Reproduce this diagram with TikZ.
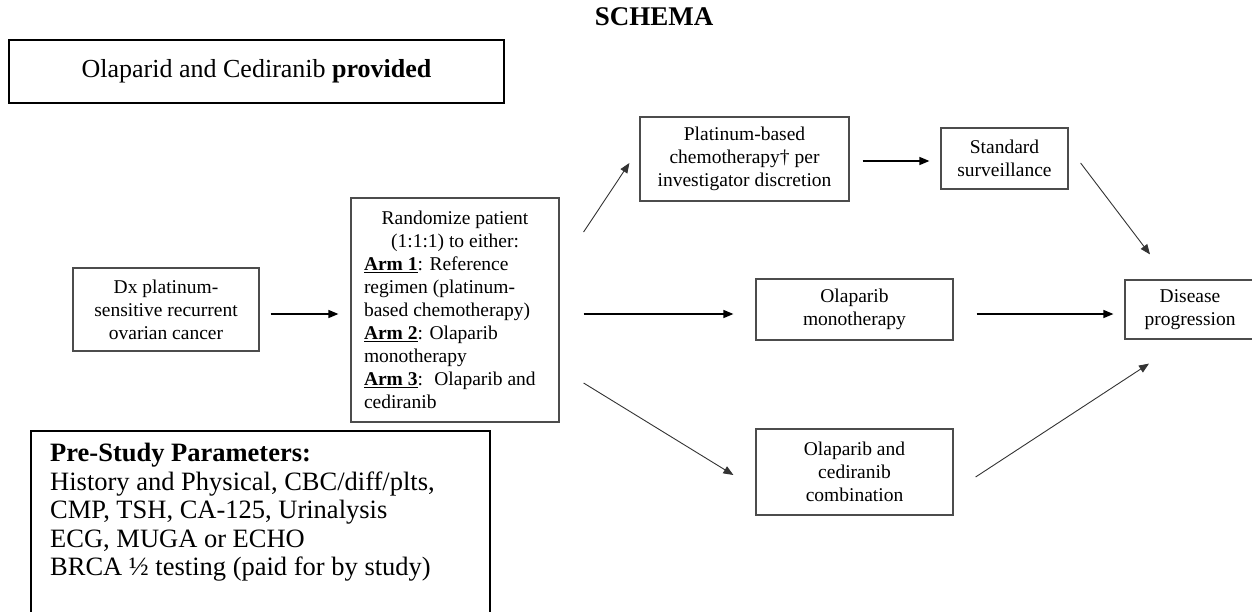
\documentclass[tikz,border=0pt]{standalone}
\usepackage{fontspec}
\setmainfont{Liberation Serif}
\usetikzlibrary{arrows.meta}

\begin{document}
\begin{tikzpicture}[x=1pt,y=-1pt,
		box/.style={draw=black!70,line width=1.2pt,align=center,inner sep=0pt,font=\fontsize{19.5}{23}\selectfont},
		bigbox/.style={draw,line width=2pt,inner sep=0pt},
		arr/.style={-{Triangle[length=10pt,width=8pt]},line width=1.4pt},
		darr/.style={arr,line width=0.9pt,draw=black!80}]
		%\draw [help lines] (0,0) grid (1252,611);
		\def\armw{182pt}
		\useasboundingbox (0,0) rectangle (1252,611);
		\clip (0,0) rectangle (1252,611);
		% title and note
			\node (title) at (654,16.5) {\fontsize{27}{30}\selectfont\bfseries SCHEMA};
			\node (note) [bigbox,minimum width=495pt,minimum height=63pt,font=\fontsize{26}{30}\selectfont] at (256.5,71.5) {Olaparid and Cediranib \textbf{provided}};
		% diagnosis and randomisation
			\node (dx) [box,minimum width=186pt,minimum height=83pt] at (166,309.5) {Dx platinum-\\sensitive recurrent\\ovarian cancer};
			\node (rand) [box,minimum width=208pt,minimum height=224pt] at (455,310) {%
				\makebox[\armw]{Randomize patient}\\
				\makebox[\armw]{(1:1:1) to either:}\\
				\makebox[\armw][l]{\underline{\textbf{Arm 1}}: Reference}\\
				\makebox[\armw][l]{regimen (platinum-}\\
				\makebox[\armw][l]{based chemotherapy)}\\
				\makebox[\armw][l]{\underline{\textbf{Arm 2}}: Olaparib}\\
				\makebox[\armw][l]{monotherapy}\\
				\makebox[\armw][l]{\underline{\textbf{Arm 3}}:~ Olaparib and}\\
				\makebox[\armw][l]{cediranib}};
		% arms
			\node (plat) [box,minimum width=209pt,minimum height=84pt] at (744.5,159) {Platinum-based\\chemotherapy† per\\investigator discretion};
			\node (stand) [box,minimum width=127pt,minimum height=61pt] at (1004.5,158.5) {Standard\\surveillance};
			\node (mono) [box,minimum width=197pt,minimum height=61pt] at (854.5,309.5) {Olaparib\\monotherapy};
			\node (combo) [box,minimum width=197pt,minimum height=86pt] at (854.5,472) {Olaparib and\\cediranib\\combination};
			\node (dis) [box,minimum width=130pt,minimum height=59pt] at (1190,309.5) {Disease\\progression};
		% parameters
			\node (pre) [bigbox,anchor=north west,minimum width=459pt,minimum height=240pt] at (30,430) {};
			\node (pretext) [anchor=north west,align=left,inner sep=0pt,font=\fontsize{26.5}{28.5}\selectfont] at (50,443) {\textbf{Pre-Study Parameters:}\\
				History and Physical, CBC/diff/plts,\\
				CMP, TSH, CA-125, Urinalysis\\
				ECG, MUGA or ECHO\\
				BRCA ½ testing (paid for by study)};
		% arrows
			\draw [arr] ([shift={(11,4.5)}]dx.east) -- ([shift={(-12,4)}]rand.west);
			\draw [darr] ([shift={(24,-78)}]rand.east) -- ([shift={(-10,4)}]plat.west);
			\draw [arr] ([shift={(24,4)}]rand.east) -- ([shift={(-22,4.5)}]mono.west);
			\draw [darr] ([shift={(24,73)}]rand.east) -- ([shift={(-22,3)}]combo.west);
			\draw [arr] ([shift={(13,2)}]plat.east) -- ([shift={(-11,2.5)}]stand.west);
			\draw [darr] ([shift={(12,4.5)}]stand.east) -- ([shift={(-40,-25)}]dis.north);
			\draw [arr] ([shift={(23,4.5)}]mono.east) -- ([shift={(-11,4.5)}]dis.west);
			\draw [darr] ([shift={(22,5)}]combo.east) -- ([shift={(-41,24)}]dis.south);
	\end{tikzpicture}
\end{document}
